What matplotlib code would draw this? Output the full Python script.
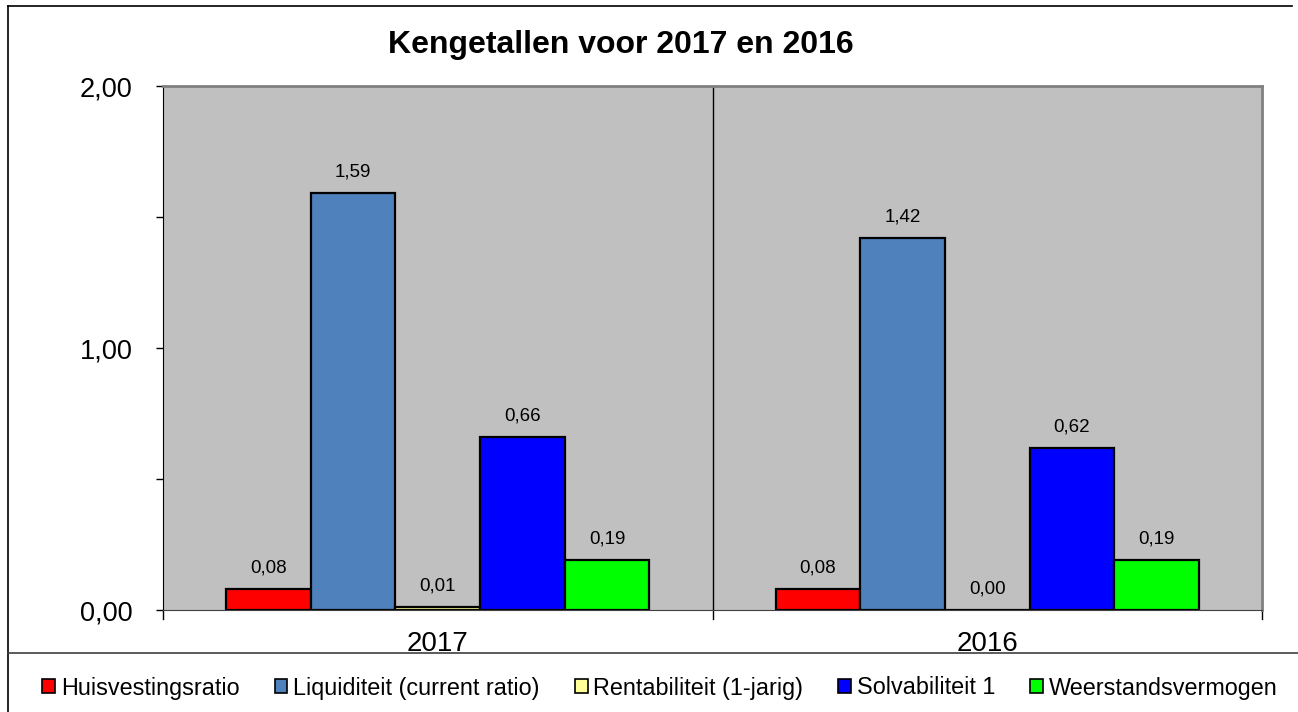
import numpy as np
import matplotlib
matplotlib.use("Agg")
import matplotlib.pyplot as plt
from matplotlib.lines import Line2D

plt.rcParams["font.family"] = ["Liberation Sans", "DejaVu Sans"]

# --------------------------------------------------------------------------- #
# data
# --------------------------------------------------------------------------- #
years = ["2017", "2016"]
series = ["Huisvestingsratio", "Liquiditeit (current ratio)",
          "Rentabiliteit (1-jarig)", "Solvabiliteit 1", "Weerstandsvermogen"]
values = {
    "Huisvestingsratio": [0.08, 0.08],
    "Liquiditeit (current ratio)": [1.59, 1.42],
    "Rentabiliteit (1-jarig)": [0.01, 0.00],
    "Solvabiliteit 1": [0.66, 0.62],
    "Weerstandsvermogen": [0.19, 0.19],
}
colors = ["#FF0000", "#4F81BD", "#FFFF99", "#0000FF", "#00FF00"]
y_ticklabels = ["0,00", "", "1,00", "", "2,00"]


def fmt(v):
    return ("%.2f" % v).replace(".", ",")


fig = plt.figure(figsize=(12.98, 7.12), dpi=100)
ax = fig.add_axes([163 / 1298, 1 - 610 / 712, (1262 - 163) / 1298, (610 - 86) / 712])
ax.set_facecolor("#C0C0C0")

n = len(series)
bw = 0.77 / n
x = np.arange(len(years))
handles = []
for i, (name, col) in enumerate(zip(series, colors)):
    pos = x - 0.385 + bw * (i + 0.5)
    bars = ax.bar(pos, values[name], width=bw, color=col, edgecolor="black",
                  linewidth=1.6, label=name)
    handles.append(bars)
    for xp, v in zip(pos, values[name]):
        ax.annotate(fmt(v), (xp, v), xytext=(0, 9), textcoords="offset points",
                    ha="center", va="bottom", fontsize=13.5)

ax.set_xlim(-0.5, len(years) - 0.5)
ax.set_ylim(0, 2)
ax.set_yticks([0, 0.5, 1.0, 1.5, 2.0])
ax.set_yticklabels(y_ticklabels, fontsize=19.5)
ax.set_xticks(x)
ax.set_xticklabels(years, fontsize=20)
ax.tick_params(axis="x", length=0, pad=15)
ax.tick_params(axis="y", length=5, width=1, direction="out", pad=17)

# category separators with small ticks below the axis
for xb in np.arange(len(years) + 1) - 0.5:
    ax.plot([xb, xb], [-0.035, 0], color="black", lw=1, clip_on=False)
for xb in np.arange(1, len(years)) - 0.5:
    ax.axvline(xb, color="black", lw=1)

for s in ["top", "right"]:
    ax.spines[s].set_color("#808080")
    ax.spines[s].set_linewidth(2)
ax.spines["left"].set_color("black")
ax.spines["bottom"].set_color("#404040")

fig.text(621 / 1298, 1 - 45 / 712, "Kengetallen voor 2017 en 2016",
         ha="center", va="center", fontsize=23, fontweight="bold")

# chart frame and legend separator
fig.add_artist(Line2D([8 / 1298, 8 / 1298], [0, 1 - 6 / 712], color="black", lw=1.2))
fig.add_artist(Line2D([8 / 1298, 1292 / 1298], [1 - 6 / 712, 1 - 6 / 712], color="black", lw=1.2))
fig.add_artist(Line2D([8 / 1298, 1], [1 - 653 / 712, 1 - 653 / 712], color="#404040", lw=1.2))

leg = fig.legend(handles=handles, labels=series, loc="center",
                 bbox_to_anchor=(660 / 1298, 1 - 688 / 712), ncol=n, frameon=False,
                 fontsize=16.8, handlelength=0.55, handleheight=0.55,
                 handletextpad=0.25, columnspacing=1.5, borderpad=0)
for p in leg.get_patches():
    p.set_linewidth(1.2)

fig.savefig("out.png", dpi=100)
